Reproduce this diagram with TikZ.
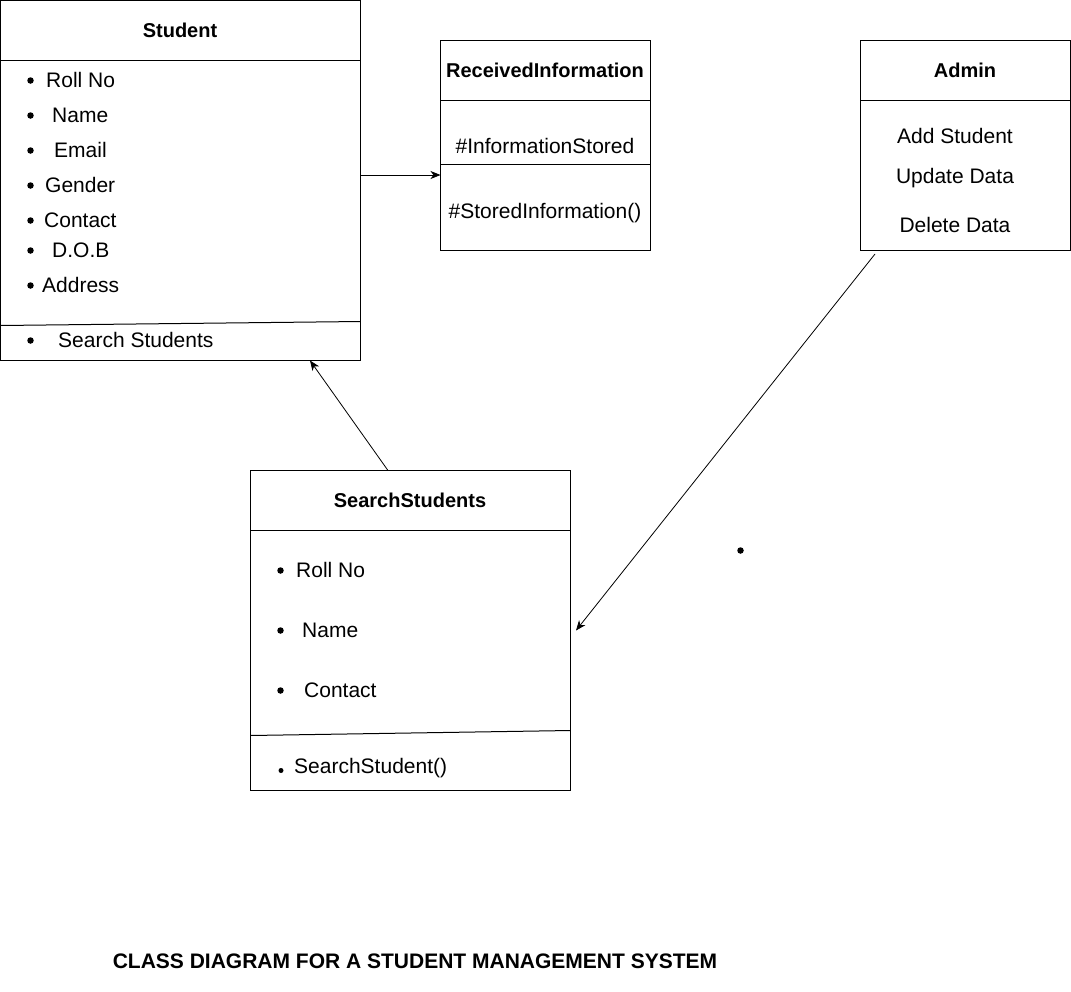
\documentclass[tikz,border=0pt]{standalone}
\usepackage{fontspec}
\setmainfont{Liberation Sans}
\usetikzlibrary{arrows.meta}
\begin{document}
\begin{tikzpicture}[x=1pt,y=-1pt,
  box/.style={draw, line width=1pt, inner sep=0pt, outer sep=0pt},
  hdr/.style={font=\fontsize{20}{24}\selectfont\bfseries, text height=14pt, text depth=0pt, inner sep=0pt},
  txt/.style={font=\fontsize{21}{25}\selectfont, text height=15pt, text depth=0pt, inner sep=0pt},
  itm/.style={txt, anchor=west},
  bul/.style={circle, fill, inner sep=0pt, minimum size=6.5pt},
  arr/.style={line width=0.8pt, -{Stealth[length=10pt,width=8pt,inset=3pt]}},
  sep/.style={line width=1pt}]
\useasboundingbox (0,0) rectangle (1071,991);

% class boxes
\node[box, minimum width=360pt, minimum height=360pt] (student) at (180.5,180.5) {};
\node[box, minimum width=210pt, minimum height=210pt] (ri) at (545.5,145.5) {};
\node[box, minimum width=210pt, minimum height=210pt] (admin) at (965.5,145.5) {};
\node[box, minimum width=320pt, minimum height=320pt] (ss) at (410.5,630.5) {};

% compartment lines
\draw[sep] ([yshift=-60pt]student.north west) -- ([yshift=-60pt]student.north east);
\draw[sep] ([yshift=-145pt]student.west) -- ([yshift=-141pt]student.east);
\draw[sep] ([yshift=-60pt]ri.north west) -- ([yshift=-60pt]ri.north east);
\draw[sep] ([yshift=-124pt]ri.north west) -- ([yshift=-124pt]ri.north east);
\draw[sep] ([yshift=-60pt]admin.north west) -- ([yshift=-60pt]admin.north east);
\draw[sep] ([yshift=-60pt]ss.north west) -- ([yshift=-60pt]ss.north east);
\draw[sep] ([yshift=-105pt]ss.west) -- ([yshift=-100pt]ss.east);

% Student
\node[hdr] (studentT) at (180,30) {Student};
\node[bul] (sb1) at (30.5,80.5) {};   \node[itm] (s1) at (46,80) {Roll No};
\node[bul] (sb2) at (30.5,115.5) {};  \node[itm] (s2) at (52,115) {Name};
\node[bul] (sb3) at (30.5,150.5) {};  \node[itm] (s3) at (54,150) {Email};
\node[bul] (sb4) at (30.5,185.5) {};  \node[itm] (s4) at (45,185) {Gender};
\node[bul] (sb5) at (30.5,220.5) {};  \node[itm] (s5) at (44,220) {Contact};
\node[bul] (sb6) at (30.5,250.5) {};  \node[itm] (s6) at (52,250) {D.O.B};
\node[bul] (sb7) at (30.5,285.5) {};  \node[itm] (s7) at (42,285) {Address};
\node[bul] (sb8) at (30.5,340.5) {};  \node[itm] (s8) at (58,340) {Search Students};

% ReceivedInformation
\node[hdr] (riT) at (545,70) {ReceivedInformation};
\node[txt] (ri1) at (545,146) {\#InformationStored};
\node[txt] (ri2) at (545,211) {\#StoredInformation()};

% Admin
\node[hdr] (adminT) at (965,70) {Admin};
\node[txt] (a1) at (955,136) {Add Student};
\node[txt] (a2) at (955,175.5) {Update Data};
\node[txt] (a3) at (955,225) {Delete Data};

% SearchStudents
\node[hdr] (ssT) at (410,500) {SearchStudents};
\node[bul] (qb1) at (280.5,570.5) {};  \node[itm] (q1) at (296,570) {Roll No};
\node[bul] (qb2) at (280.5,630.5) {};  \node[itm] (q2) at (302,630) {Name};
\node[bul] (qb3) at (280.5,690.5) {};  \node[itm] (q3) at (304,690) {Contact};
\node[bul, minimum size=5pt] (qb4) at (281,770.5) {};
\node[itm] (q4) at (294,765.5) {SearchStudent()};

% loose dot
\node[bul] (dot) at (740.5,550.5) {};

% associations
\draw[arr] ([yshift=5.5pt]student.east) -- ([yshift=5.5pt]student.east -| ri.west);
\draw[arr] ([xshift=-22.5pt]ss.north) -- ([xshift=129.5pt]student.south);
\draw[arr] ([xshift=-90.5pt,yshift=-3.5pt]admin.south) -- ([xshift=5.5pt]ss.east);

% caption
\node[hdr, font=\fontsize{21}{25}\selectfont\bfseries] (title) at (415,961) {CLASS DIAGRAM FOR A STUDENT MANAGEMENT SYSTEM};
\end{tikzpicture}
\end{document}
